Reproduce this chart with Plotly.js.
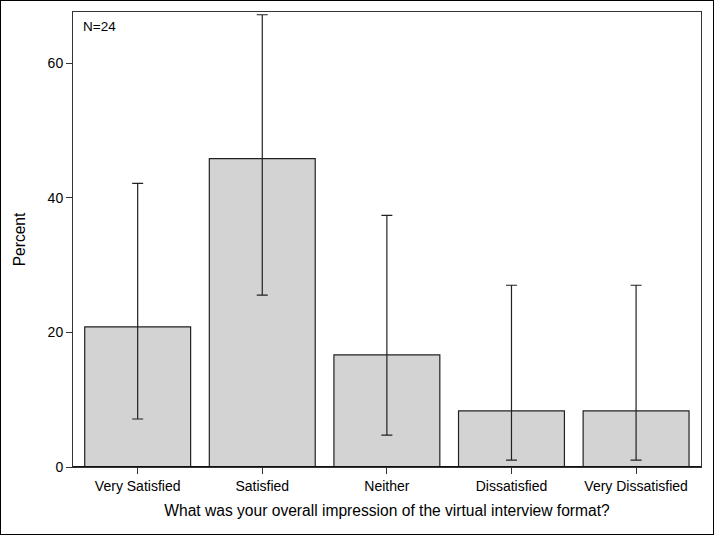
<!DOCTYPE html>
<html><head><meta charset="utf-8">
<script src="https://cdn.plot.ly/plotly-3.0.1.min.js"></script>
<style>html,body{margin:0;padding:0;background:#fff;}#wrap{position:relative;width:714px;height:535px;}#frame{position:absolute;left:0;top:0;width:714px;height:535px;box-sizing:border-box;border:1.5px solid #000;pointer-events:none;}</style>
</head><body>
<div id="wrap"><div id="chart" style="width:714px;height:535px;"></div><div id="frame"></div></div>
<script>
const categories = ["Very Satisfied", "Satisfied", "Neither", "Dissatisfied", "Very Dissatisfied"];
const percent = [20.83, 45.83, 16.67, 8.33, 8.33];
const upperCL = [42.15, 67.19, 37.38, 27.00, 27.00];
const lowerCL = [7.13, 25.55, 4.74, 1.03, 1.03];
const yTicks = [0, 20, 40, 60];
const nLabel = "N=24";

const trace = {
  type: "bar",
  x: categories,
  y: percent,
  marker: {color: "#d3d3d3", line: {color: "#222", width: 1.2}},
  error_y: {
    type: "data", symmetric: false,
    array: percent.map((v, i) => upperCL[i] - v),
    arrayminus: percent.map((v, i) => v - lowerCL[i]),
    color: "#222", thickness: 1.2, width: 5.5
  },
  hoverinfo: "none"
};

const layout = {
  width: 714, height: 535,
  margin: {l: 73, r: 13, t: 12, b: 68},
  paper_bgcolor: "#fff", plot_bgcolor: "#fff",
  bargap: 0.15,
  showlegend: false,
  font: {family: "Liberation Sans, Arial, sans-serif", color: "#000"},
  xaxis: {
    range: [-0.519, 4.521],
    showline: true, linecolor: "#333", linewidth: 1, mirror: true,
    ticks: "outside", ticklen: 6, tickcolor: "#333",
    tickfont: {size: 14, family: "Liberation Sans, Arial, sans-serif"},
    title: {text: "What was your overall impression of the virtual interview format?", font: {size: 15.6}, standoff: 12},
    showgrid: false, zeroline: false, fixedrange: true
  },
  yaxis: {
    range: [0, 67.6],
    tickvals: yTicks,
    showline: true, linecolor: "#333", linewidth: 1, mirror: true,
    ticks: "outside", ticklen: 6, tickcolor: "#333",
    tickfont: {size: 14, family: "Liberation Sans, Arial, sans-serif"},
    title: {text: "Percent", font: {size: 15.6}, standoff: 18},
    showgrid: false, zeroline: false, fixedrange: true
  },
  shapes: [{type: "line", xref: "paper", yref: "y", x0: 0, x1: 1, y0: 0, y1: 0, line: {color: "#111", width: 2}}],
  annotations: [{
    text: nLabel, xref: "paper", yref: "paper", x: 0.012, y: 0.99,
    xanchor: "left", yanchor: "top", showarrow: false,
    font: {size: 13.5, family: "Liberation Sans, Arial, sans-serif"}
  }]
};

Plotly.newPlot("chart", [trace], layout, {displayModeBar: false, staticPlot: true});
</script>
</body></html>
